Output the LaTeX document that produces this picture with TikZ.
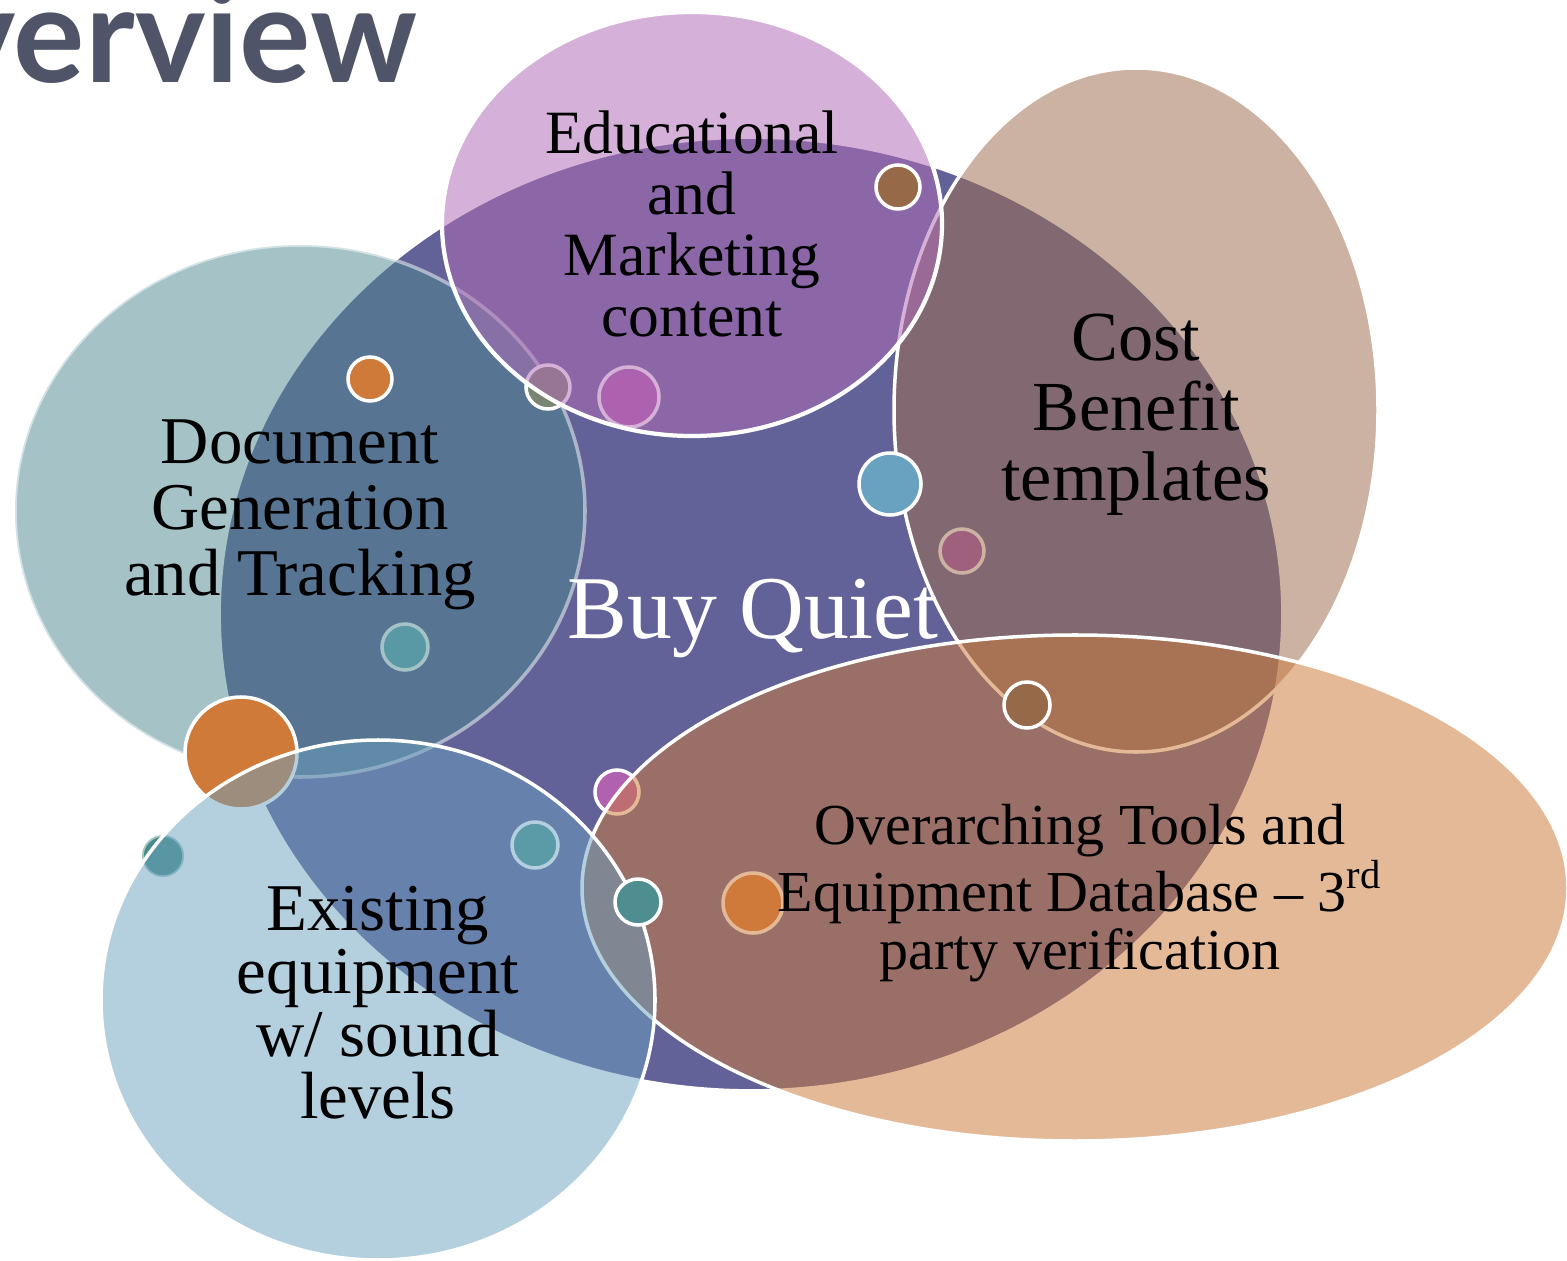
\documentclass[tikz,border=0pt]{standalone}
\usepackage{fontspec}
\setmainfont{Liberation Serif}
\newfontfamily\headfont{Lato}
\usepackage{xcolor}
\usepackage{tikz}

\definecolor{quietbase}{RGB}{99,98,152}
\definecolor{docteal}{RGB}{76,136,144}
\definecolor{costtan}{RGB}{157,110,79}
\definecolor{edupurple}{RGB}{176,108,183}
\definecolor{toolorange}{RGB}{204,123,60}
\definecolor{existblue}{RGB}{106,160,190}
\definecolor{headgray}{RGB}{79,84,104}
\definecolor{dotorange}{RGB}{208,122,58}
\definecolor{dotbrown}{RGB}{150,106,73}
\definecolor{dotblue}{RGB}{105,162,192}
\definecolor{dotteal}{RGB}{78,142,144}

\begin{document}
\begin{tikzpicture}[x=0.01cm, y=-0.01cm,
  blob/.style={draw=white, line width=1pt, fill opacity=0.53},
  spot/.style={draw=white, line width=1pt},
  lbl/.style={align=center, text=black, inner sep=0pt}]
  \useasboundingbox (0,0) rectangle (1567,1261);

  \node[anchor=base east, inner sep=0pt, text=headgray, font=\headfont\bfseries\fontsize{38}{38}\selectfont] (title) at (418,83) {verview};

  % central set
  \draw[fill=quietbase, draw=white, line width=0.5pt] (751,614) ellipse [x radius=531, y radius=476];

  \fill[spot, fill={rgb,255:red,104;green,172;blue,188}] (405,647) circle [radius=23];
  \draw[blob, fill=docteal, fill opacity=0.5, draw opacity=0.5] (300,511) ellipse [x radius=285, y radius=266];

  \fill[spot, fill={rgb,255:red,163;green,82;blue,179}] (962,551) circle [radius=22];
  \draw[blob, fill=costtan] (1136,410) ellipse [x radius=242, y radius=342];

  \draw[spot, fill={rgb,255:red,120;green,133;blue,112}] (548,387) circle [radius=22];
  \draw[spot, fill={rgb,255:red,170;green,87;blue,166}] (629,397) circle [radius=30];
  \draw[blob, fill=edupurple, line width=1.2pt] (692,224) ellipse [x radius=250, y radius=212];

  \draw[spot, fill={rgb,255:red,176;green,97;blue,176}] (617,792) circle [radius=22];
  \draw[spot, fill={rgb,255:red,212;green,121;blue,56}] (753,903) circle [radius=30];
  \draw[blob, fill=toolorange] (1075,888) ellipse [x radius=493, y radius=253];

  \draw[spot, fill=dotorange] (241,753) circle [radius=56];
  \draw[spot, fill={rgb,255:red,76;green,150;blue,146}] (535,845) circle [radius=23];
  \draw[spot, fill={rgb,255:red,70;green,140;blue,136}, draw opacity=0.5] (163,856) circle [radius=21];
  \draw[blob, fill=existblue, fill opacity=0.5] (378,1000) ellipse [x radius=277, y radius=260];

  % dots on top
  \draw[spot, fill=dotbrown] (898,187) circle [radius=22];
  \draw[spot, fill=dotorange] (370,379) circle [radius=22];
  \draw[spot, fill=dotblue] (890,484) circle [radius=31];
  \draw[spot, fill=dotbrown] (1027,705) circle [radius=23];
  \draw[spot, fill=dotteal] (638,902) circle [radius=23];

  % labels
  \node[lbl, font=\fontsize{17.5}{17.4}\selectfont] (edu) at (692,224) {Educational\\and\\Marketing\\content};
  \node[lbl, font=\fontsize{20}{19.9}\selectfont] (cost) at (1136,415) {Cost\\Benefit\\templates};
  \node[lbl, font=\fontsize{19}{18.8}\selectfont] (doc) at (300,515) {Document\\Generation\\and Tracking};
  \node[lbl, text=white, font=\fontsize{25.5}{25.5}\selectfont] (quiet) at (753,618) {Buy Quiet};
  \node[lbl, font=\fontsize{19}{17.8}\selectfont] (exist) at (378,1003) {Existing\\equipment\\w/ sound\\levels};
  \node[lbl, font=\fontsize{16.5}{16.5}\selectfont] (tools) at (1080,893) {Overarching Tools and\\Equipment Database -- 3\textsuperscript{rd}\\party verification};
\end{tikzpicture}
\end{document}
